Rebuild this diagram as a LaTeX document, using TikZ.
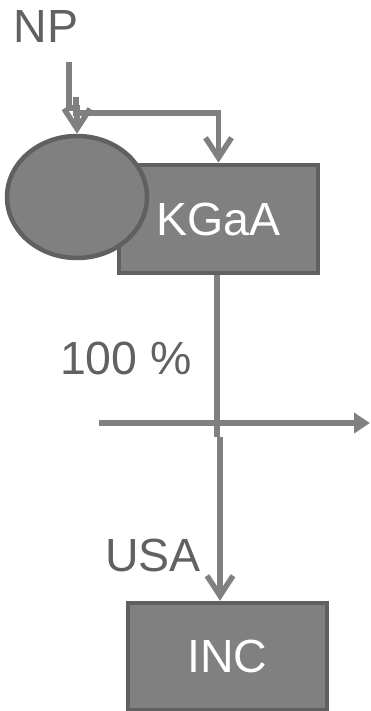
\documentclass[tikz,border=0pt]{standalone}
\usepackage{fontspec}
\setmainfont{Liberation Sans}
\usetikzlibrary{shapes.geometric,arrows.meta}

\newlength{\du}
\setlength{\du}{1pt}

\definecolor{boxfill}{rgb}{0.502, 0.502, 0.502}
\definecolor{boxline}{rgb}{0.376, 0.376, 0.376}
\definecolor{linkcolor}{rgb}{0.502, 0.502, 0.502}
\definecolor{labelcolor}{rgb}{0.380, 0.380, 0.380}

\tikzset{
  entity/.style={draw=boxline, fill=boxfill, line width=4.5\du, inner sep=0pt,
    text=white, font=\fontsize{46.5}{56}\selectfont},
  label/.style={text=labelcolor, inner sep=0pt, font=\fontsize{46.5}{56}\selectfont},
  link/.style={draw=linkcolor, line width=5.5\du},
  owns/.style={link, -{Straight Barb[length=20pt, width=26pt, line width=5.5pt]}},
  border/.style={link, -{Triangle[length=16pt, width=20pt]}}
}

\begin{document}
\begin{tikzpicture}[x=\du, y=-\du]
\useasboundingbox (0,0) rectangle (370,711);
% entities
\node[entity, minimum width=199\du, minimum height=108\du] (kgaa) at (218.5,219) {KGaA};
\node[entity, ellipse, minimum width=140\du, minimum height=122\du] (np) at (77,197) {};
\node[entity, minimum width=199\du, minimum height=107\du] (inc) at (227.5,656.5) {INC};
% labels
\node[label] (nplabel) at (46,27) {NP};
\node[label] (share) at (126,358) {100 \%};
\node[label] (usa) at (153,555) {USA};
% connectors
\coordinate (npfoot) at (69,62);
\coordinate (npbend) at (69,108);
\coordinate (split) at (76,97);
\coordinate (splitbend) at (76,113);
\coordinate (cross) at (217,437);
\coordinate (crossout) at (220,437);
\coordinate (borderin) at (99,423);
\coordinate (borderout) at (370,423);
\draw[owns] (npfoot) -- (npbend) -| (np.north);
\draw[owns] (split) -- (splitbend) -| (kgaa.north);
\draw[link] (kgaa.south -| cross) -- (cross);
\draw[border] (borderin) -- (borderout);
\draw[owns] (crossout) -- (crossout |- inc.north);
\end{tikzpicture}
\end{document}
